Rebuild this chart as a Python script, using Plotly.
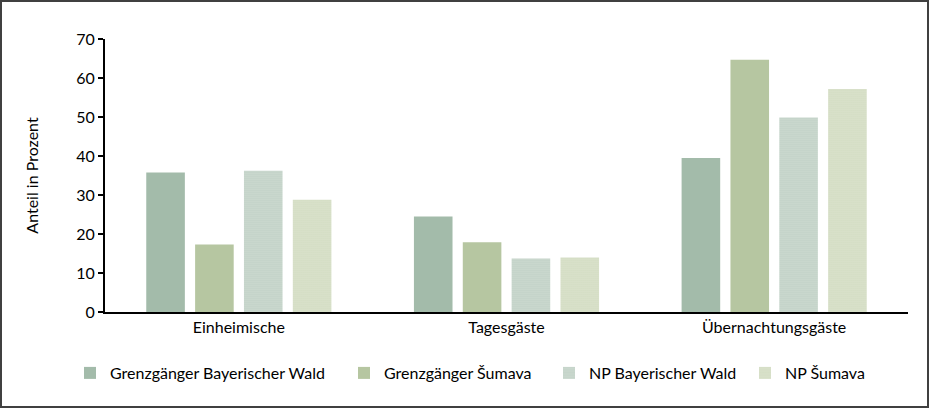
import plotly.graph_objects as go

categories = ["Einheimische", "Tagesgäste", "Übernachtungsgäste"]
series_names = ["Grenzgänger Bayerischer Wald", "Grenzgänger Šumava", "NP Bayerischer Wald", "NP Šumava"]
grenz_bw = [35.8, 24.5, 39.5]
grenz_su = [17.3, 17.9, 64.7]
np_bw = [36.2, 13.7, 49.9]
np_su = [28.8, 14.0, 57.2]
y_ticks = [0, 10, 20, 30, 40, 50, 60, 70]

FONT = "Lato"
series = [grenz_bw, grenz_su, np_bw, np_su]
styles = [
    dict(color="#A3BBAA"),
    dict(color="#B6C6A1"),
    dict(color="#D3DED7", pattern=dict(shape=".", size=2, solidity=0.6, fgcolor="#A3BBAA", bgcolor="#D3DED7")),
    dict(color="#E0E7D3", pattern=dict(shape=".", size=2, solidity=0.6, fgcolor="#BCCAA6", bgcolor="#E0E7D3")),
]
legend_x_px = [110, 384, 589, 785]
W, H = 931, 410
ml, mr, mt, mb = 105, 23, 39, 98
pw, ph = W - ml - mr, H - mt - mb

fig = go.Figure()
for i, (name, vals, st) in enumerate(zip(series_names, series, styles)):
    lg = "legend" if i == 0 else f"legend{i+1}"
    fig.add_trace(go.Bar(x=categories, y=vals, name=name, marker=dict(line=dict(width=0), **st),
                         legend=lg))

layout_legends = {}
for i, px in enumerate(legend_x_px):
    key = "legend" if i == 0 else f"legend{i+1}"
    layout_legends[key] = dict(
        xref="container", yref="container",
        x=(px - 40) / W, xanchor="left",
        y=1 - 373 / H, yanchor="middle",
        orientation="h", font=dict(family=FONT, size=16, color="#000"),
        bgcolor="rgba(0,0,0,0)", borderwidth=0, itemclick=False,
    )

fig.update_layout(
    width=W, height=H,
    margin=dict(l=ml, r=mr, t=mt, b=mb, pad=0, autoexpand=False),
    paper_bgcolor="white", plot_bgcolor="white",
    barmode="group", bargap=0.27, bargroupgap=0.21,
    font=dict(family=FONT, size=16, color="#000"),
    showlegend=True,
    **layout_legends,
    xaxis=dict(showline=True, linecolor="#000", linewidth=2, ticks="", showgrid=False,
               tickfont=dict(family=FONT, size=16, color="#000"), fixedrange=True),
    yaxis=dict(range=[0, 70], tickvals=y_ticks, showline=True, linecolor="#000", linewidth=2,
               ticks="outside", ticklen=5, tickwidth=2, tickcolor="#000", showgrid=False,
               zeroline=False, tickfont=dict(family=FONT, size=16, color="#000"),
               title=dict(text="Anteil in Prozent", font=dict(family=FONT, size=16, color="#000"), standoff=34),
               fixedrange=True),
    shapes=[dict(type="rect", xref="paper", yref="paper",
                 x0=(1 - ml) / pw, x1=(928 - ml) / pw,
                 y0=(mt + ph - 407) / ph, y1=(mt + ph - 1) / ph,
                 line=dict(color="#404040", width=2), fillcolor="rgba(0,0,0,0)", layer="below")],
)

fig.write_html("out.html", config={"displayModeBar": False},
               post_script="document.body.style.margin='0';document.body.style.overflow='hidden';")
